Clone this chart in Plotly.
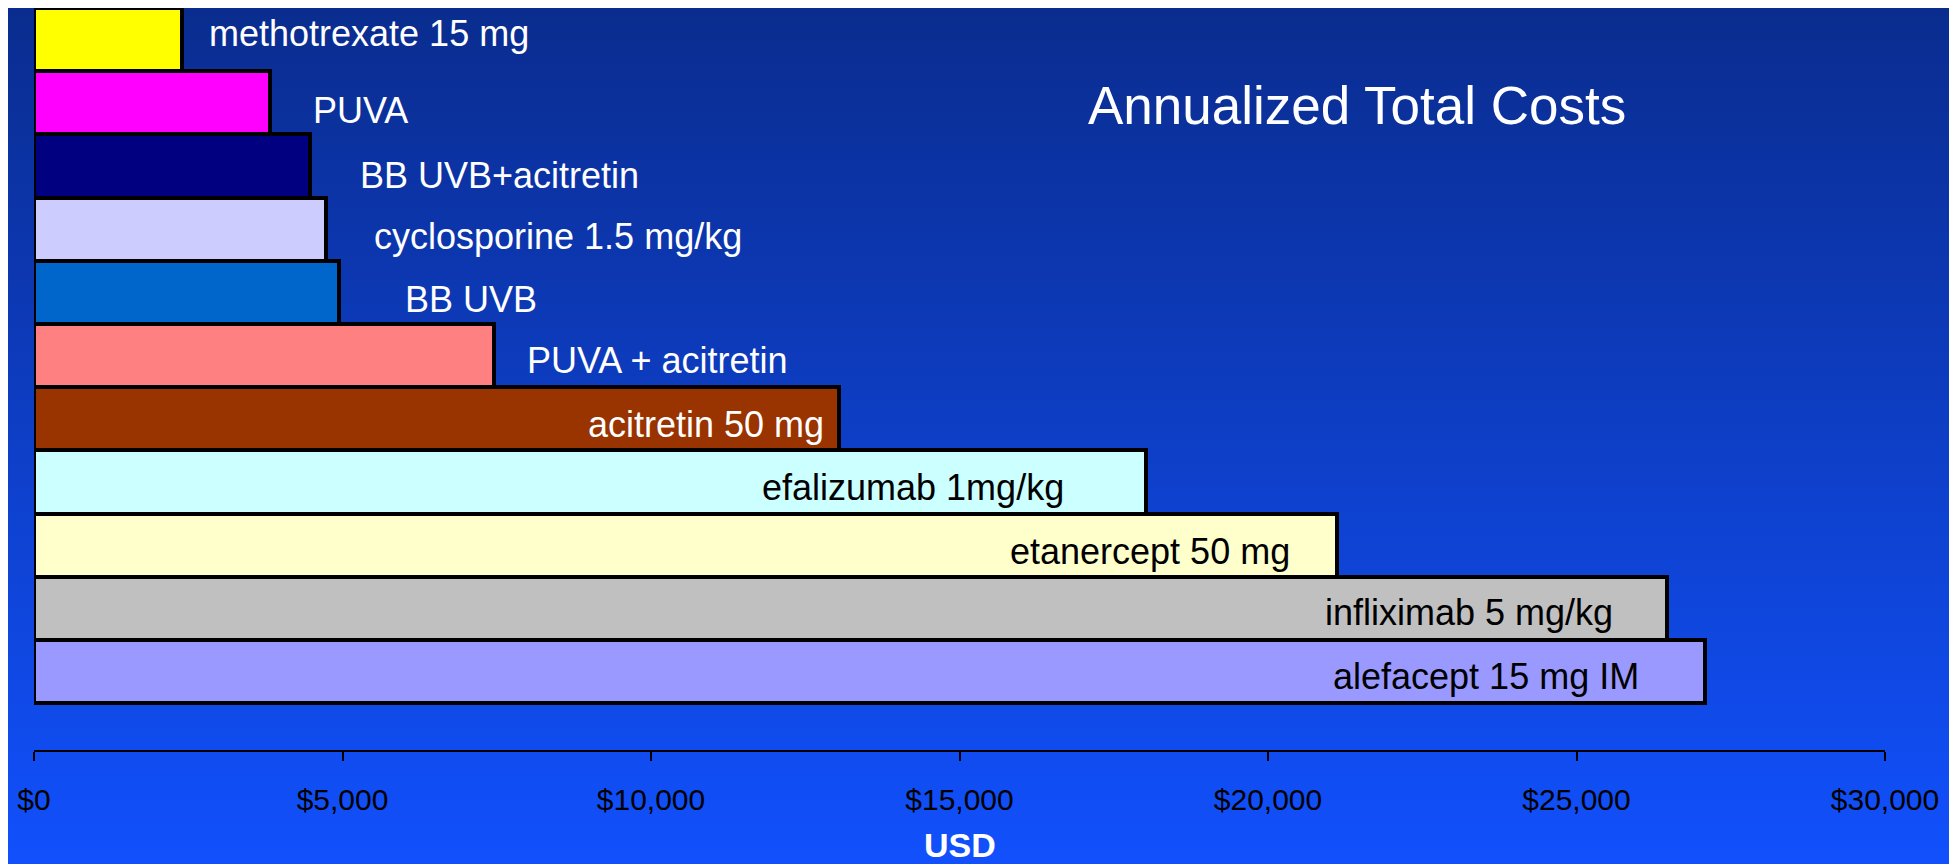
import plotly.graph_objects as go

# ── Data ──────────────────────────────────────────────────────────────────────
treatments = [
    "methotrexate 15 mg", "PUVA", "BB UVB+acitretin", "cyclosporine 1.5 mg/kg",
    "BB UVB", "PUVA + acitretin", "acitretin 50 mg", "efalizumab 1mg/kg",
    "etanercept 50 mg", "infliximab 5 mg/kg", "alefacept 15 mg IM",
]
annual_cost = [2400, 3820, 4470, 4740, 4950, 7450, 13050, 18020, 21120, 26460, 27090]
tick_values = [0, 5000, 10000, 15000, 20000, 25000, 30000]
tick_labels = ["$" + format(v, ",") for v in tick_values]

# ── Styling ───────────────────────────────────────────────────────────────────
bar_colors = ["#FFFF00", "#FF00FF", "#000080", "#CCCCFF", "#0066CC", "#FF8080",
              "#993300", "#CCFFFF", "#FFFFCC", "#C0C0C0", "#9999FF"]
label_colors = ["white"] * 7 + ["black"] * 4
label_inside = [False] * 6 + [True] * 5
label_xshift = [25, 41, 48, 46, 64, 31, -13, -80, -45, -52, -64]
label_yshift = [6, -8, -9, -7, -7, -5, -6, -5, -6, -4, -5]

FONT = "Liberation Sans, Arial, sans-serif"
W, H = 1957, 864
OFF = 8  # page body margin pushes the svg 8px right and down
M = dict(l=34 - OFF, r=W - 1885 + OFF, t=0, b=H - 750 + OFF)

fig = go.Figure(go.Bar(
    x=annual_cost, y=treatments, orientation="h",
    marker=dict(color=bar_colors, line=dict(color="black", width=4)),
    width=1, hoverinfo="x+y",
))

# labels next to / inside each bar
for name, val, col, inside, dx, dy in zip(treatments, annual_cost, label_colors,
                                          label_inside, label_xshift, label_yshift):
    fig.add_annotation(
        x=val, y=name, text=name, showarrow=False,
        xanchor="right" if inside else "left", yanchor="middle",
        xshift=dx, yshift=dy,
        font=dict(family=FONT, size=36, color=col),
    )

pw = W - M["l"] - M["r"]
ph = H - M["t"] - M["b"]


def px_x(x):  # page pixel -> paper x
    return (x - OFF - M["l"]) / pw


def px_y(y):  # page pixel -> paper y
    return 1 - (y - OFF - M["t"]) / ph


# vertical gradient background built from thin bands
top_rgb, bot_rgb = (10, 44, 142), (17, 80, 252)
n_bands = 108
shapes = []
for i in range(n_bands):
    f = i / (n_bands - 1)
    c = tuple(round(a + (b - a) * f) for a, b in zip(top_rgb, bot_rgb))
    y0 = H * i / n_bands
    y1 = H * (i + 1) / n_bands + 1
    shapes.append(dict(
        type="rect", xref="paper", yref="paper", layer="below",
        x0=px_x(-20), x1=px_x(W + 20), y0=px_y(y1), y1=px_y(y0 - (20 if i == 0 else 0)),
        fillcolor="rgb(%d,%d,%d)" % c, line=dict(width=0),
    ))

fig.add_annotation(
    text="Annualized Total Costs", xref="paper", yref="paper",
    x=px_x(1357), y=px_y(106),
    showarrow=False, xanchor="center", yanchor="middle",
    font=dict(family=FONT, size=53, color="white"),
)
fig.add_annotation(
    text="<b>USD</b>", xref="paper", yref="paper",
    x=0.5, y=px_y(845),
    showarrow=False, xanchor="center", yanchor="middle",
    font=dict(family=FONT, size=34, color="white"),
)

fig.update_layout(
    width=W, height=H, margin=M,
    shapes=shapes,
    paper_bgcolor="#0B2F94", plot_bgcolor="rgba(0,0,0,0)",
    showlegend=False, bargap=0,
    font=dict(family=FONT, color="black"),
    xaxis=dict(
        range=[0, 30000], tickvals=tick_values, ticktext=tick_labels,
        showgrid=False, zeroline=False, showline=True, linecolor="black", linewidth=1.5,
        ticks="outside", ticklen=9, tickcolor="black", tickwidth=1.5,
        ticklabelstandoff=13, tickfont=dict(family=FONT, size=30, color="black"),
        fixedrange=True,
    ),
    yaxis=dict(
        visible=False, categoryorder="array", categoryarray=treatments[::-1],
        range=[-1.24, 10.5], fixedrange=True,
    ),
)

fig.write_html("out.html")
